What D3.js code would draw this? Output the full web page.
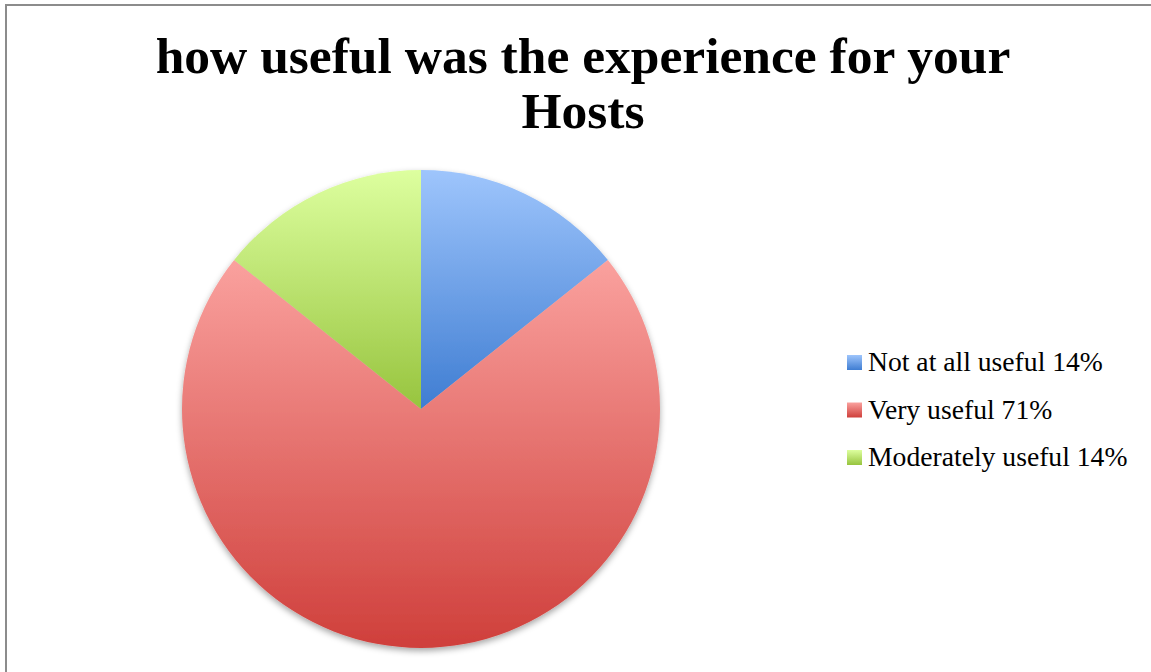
<!DOCTYPE html>
<html>
<head>
<meta charset="utf-8">
<script src="https://cdn.jsdelivr.net/npm/d3@7.9.0/dist/d3.min.js"></script>
<style>
  body { margin: 0; background: #fff; }
  svg { display: block; }
</style>
</head>
<body>
<svg id="chart" width="1151" height="672"></svg>
<script>
const categories = ['Not at all useful', 'Very useful', 'Moderately useful'];
const values = [1, 5, 1];
const legendLabels = ['Not at all useful 14%', 'Very useful 71%', 'Moderately useful 14%'];
const titleLines = ['how useful was the experience for your', 'Hosts'];
const colorTop = ['#9ec5fc', '#faa19e', '#ddff9f'];
const colorBottom = ['#3f7dd2', '#cf3f3b', '#97c43e'];

const font = 'Liberation Serif, DejaVu Serif, serif';
const svg = d3.select('#chart');
const defs = svg.append('defs');

const shadow = defs.append('filter').attr('id', 'shadow')
  .attr('x', '-10%').attr('y', '-10%').attr('width', '120%').attr('height', '125%');
shadow.append('feDropShadow')
  .attr('dx', 0).attr('dy', 3).attr('stdDeviation', 3)
  .attr('flood-color', '#000').attr('flood-opacity', 0.35);

categories.forEach((c, i) => {
  const g = defs.append('linearGradient').attr('id', `grad${i}`)
    .attr('x1', 0).attr('y1', 0).attr('x2', 0).attr('y2', 1);
  g.append('stop').attr('offset', '0%').attr('stop-color', colorTop[i]);
  g.append('stop').attr('offset', '100%').attr('stop-color', colorBottom[i]);
});

// frame (only top and left edges fall inside the picture)
svg.append('path')
  .attr('d', 'M6,700 V5 H1160')
  .attr('fill', 'none').attr('stroke', '#8c8c8c').attr('stroke-width', 2);

// title, scaled so the first line spans the same width as the reference
const title = svg.append('text')
  .attr('text-anchor', 'middle')
  .attr('font-family', font)
  .attr('font-weight', 'bold')
  .attr('font-size', 45)
  .attr('fill', '#000');
titleLines.forEach((t, i) => {
  title.append('tspan').attr('x', 583).attr('y', 73 + i * 55).text(t);
});
const w = title.select('tspan').node().getComputedTextLength();
title.attr('font-size', 45 * 855 / w);

// pie
const cx = 421, cy = 409, r = 239;
const pie = d3.pie().sort(null).value(d => d);
const arc = d3.arc().innerRadius(0).outerRadius(r);
const pieG = svg.append('g')
  .attr('transform', `translate(${cx},${cy})`)
  .attr('filter', 'url(#shadow)');
pieG.selectAll('path')
  .data(pie(values))
  .join('path')
  .attr('d', arc)
  .attr('fill', (d, i) => `url(#grad${i})`);

// legend
const legend = svg.append('g').attr('transform', 'translate(847,355)');
const item = legend.selectAll('g')
  .data(legendLabels)
  .join('g')
  .attr('transform', (d, i) => `translate(0,${i * 47.5})`);
item.append('rect')
  .attr('width', 15).attr('height', 15)
  .attr('fill', (d, i) => `url(#grad${i})`);
const labels = item.append('text')
  .attr('x', 21).attr('y', 16)
  .attr('font-family', font)
  .attr('font-size', 24)
  .attr('fill', '#000')
  .text(d => d);
const lw = labels.node().getComputedTextLength();
labels.attr('font-size', 24 * 235 / lw);
</script>
</body>
</html>
